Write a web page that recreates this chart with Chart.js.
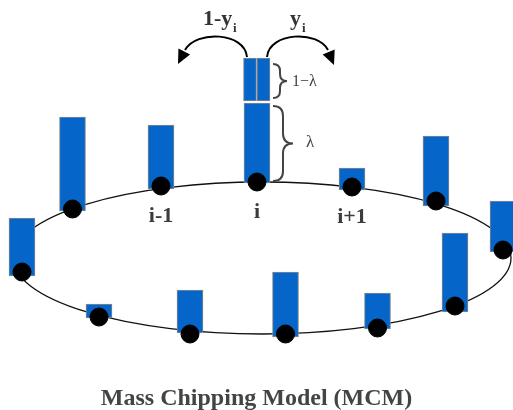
<!DOCTYPE html>
<html>
<head>
<meta charset="utf-8">
<script src="https://cdn.jsdelivr.net/npm/chart.js@4.4.1/dist/chart.umd.min.js"></script>
<style>
  html, body { margin: 0; padding: 0; background: #fff; }
  canvas { display: block; }
</style>
</head>
<body>
<canvas id="mcm" width="513" height="410"></canvas>
<script>
// sites on the ring (diagram units)
const siteX   = [22, 72.5, 161, 257, 352, 436, 503, 455, 377.5, 285.5, 190, 99];
const beadY   = [272, 209, 186, 182, 187, 201, 250, 306, 328, 334, 334, 317];
const barBase = [276, 211, 189, 183, 190, 206, 252, 312, 329, 337, 333, 318];
const barTop  = [218, 117, 125, 103, 168, 136, 201, 233, 293, 272, 290, 304];

// the chipped piece (1 - lambda) on top of site i, split in two
const chipX    = [250, 263.5];
const chipBase = [101, 101];
const chipTop  = [58, 58];

// site labels
const labelSite = [2, 3, 4];
const labelText = ['i-1', 'i', 'i+1'];

// ring (ellipse) through the beads
const ring = { cx: 262, cy: 258, rx: 249, ry: 76 };

const serif = "'Liberation Serif', 'DejaVu Serif', serif";

function brace(ctx, x, y1, y2, w) {
  const ym = (y1 + y2) / 2;
  const q = w / 2;
  ctx.beginPath();
  ctx.moveTo(x, y1);
  ctx.quadraticCurveTo(x + q, y1, x + q, y1 + q);
  ctx.lineTo(x + q, ym - q);
  ctx.quadraticCurveTo(x + q, ym, x + w, ym);
  ctx.quadraticCurveTo(x + q, ym, x + q, ym + q);
  ctx.lineTo(x + q, y2 - q);
  ctx.quadraticCurveTo(x + q, y2, x, y2);
  ctx.stroke();
}

function arrowHead(ctx, fx, fy, tx, ty, len, half) {
  const dx = tx - fx, dy = ty - fy;
  const d = Math.hypot(dx, dy);
  const ux = dx / d, uy = dy / d;
  const bx = tx - ux * len, by = ty - uy * len;
  ctx.beginPath();
  ctx.moveTo(tx, ty);
  ctx.lineTo(bx - uy * half, by + ux * half);
  ctx.lineTo(bx + uy * half, by - ux * half);
  ctx.closePath();
  ctx.fill();
}

const ringPlugin = {
  id: 'ring',
  beforeDatasetsDraw(chart) {
    const { ctx, scales: { x, y } } = chart;
    const cx = x.getPixelForValue(ring.cx), cy = y.getPixelForValue(ring.cy);
    const rx = x.getPixelForValue(ring.cx + ring.rx) - cx;
    const ry = y.getPixelForValue(ring.cy + ring.ry) - cy;
    ctx.save();
    ctx.strokeStyle = '#111';
    ctx.lineWidth = 1.3;
    ctx.beginPath();
    ctx.ellipse(cx, cy, Math.abs(rx), Math.abs(ry), 0, 0, Math.PI * 2);
    ctx.stroke();
    ctx.restore();
  }
};

const notesPlugin = {
  id: 'notes',
  afterDatasetsDraw(chart) {
    const { ctx, scales: { x, y } } = chart;
    const px = v => x.getPixelForValue(v);
    const py = v => y.getPixelForValue(v);
    ctx.save();

    // site labels
    ctx.fillStyle = '#3c3c3c';
    ctx.font = 'bold 22px ' + serif;
    ctx.textAlign = 'center';
    ctx.textBaseline = 'middle';
    labelSite.forEach((k, j) => {
      ctx.fillText(labelText[j], px(siteX[k]), py(beadY[k] + 30));
    });

    // braces and lambda labels
    ctx.strokeStyle = '#444';
    ctx.lineWidth = 2;
    brace(ctx, px(273), py(chipTop[0] + 6), py(chipBase[0] - 3), 14);
    brace(ctx, px(273), py(barTop[3] + 3), py(barBase[3] - 2), 20);
    ctx.fillStyle = '#444';
    ctx.textAlign = 'left';
    ctx.font = '16px ' + serif;
    ctx.fillText('1\u2212\u03bb', px(292), py(82));
    ctx.font = '17px ' + serif;
    ctx.fillText('\u03bb', px(306), py(143));

    // hopping arrows
    ctx.strokeStyle = '#000';
    ctx.fillStyle = '#000';
    ctx.lineWidth = 2;
    ctx.beginPath();
    ctx.moveTo(px(247), py(57));
    ctx.bezierCurveTo(px(245), py(32), px(196), py(30), px(185), py(50));
    ctx.stroke();
    arrowHead(ctx, px(186), py(48), px(178), py(64), 14, 6.5);
    ctx.beginPath();
    ctx.moveTo(px(267), py(57));
    ctx.bezierCurveTo(px(269), py(32), px(318), py(30), px(328), py(50));
    ctx.stroke();
    arrowHead(ctx, px(327), py(48), px(334), py(65), 14, 6.5);

    // probabilities
    ctx.fillStyle = '#333';
    ctx.textBaseline = 'alphabetic';
    ctx.font = 'bold 22px ' + serif;
    ctx.fillText('1-y', px(203), py(25));
    ctx.fillText('y', px(290), py(25));
    ctx.font = 'bold 13px ' + serif;
    ctx.fillText('i', px(233), py(32));
    ctx.fillText('i', px(302), py(32));

    ctx.restore();
  }
};

const barStyle = {
  backgroundColor: '#0565c8',
  borderColor: '#8a8a8a',
  borderWidth: 1,
  borderSkipped: false,
  grouped: false,
  clip: false
};

// the bead points make Chart.js keep a 10px margin on top/left/right,
// so the scales start at 10 to keep one unit = one pixel
new Chart(document.getElementById('mcm'), {
  type: 'scatter',
  data: {
    datasets: [
      {
        type: 'scatter',
        order: 0,
        clip: false,
        data: siteX.map((v, k) => ({ x: v, y: beadY[k] })),
        pointRadius: 9,
        pointHoverRadius: 9,
        pointBackgroundColor: '#000',
        pointBorderColor: '#000',
        pointBorderWidth: 1
      },
      Object.assign({
        type: 'bar',
        order: 1,
        barThickness: 26,
        data: siteX.map((v, k) => ({ x: v, y: [barBase[k], barTop[k]] }))
      }, barStyle),
      Object.assign({
        type: 'bar',
        order: 1,
        barThickness: 13,
        data: chipX.map((v, k) => ({ x: v, y: [chipBase[k], chipTop[k]] }))
      }, barStyle)
    ]
  },
  options: {
    responsive: false,
    animation: false,
    events: [],
    layout: { padding: 0 },
    scales: {
      x: { type: 'linear', min: 10, max: 503, offset: false, display: false },
      y: { type: 'linear', min: 10, max: 372, reverse: true, display: false }
    },
    plugins: {
      legend: { display: false },
      tooltip: { enabled: false },
      title: {
        display: true,
        position: 'bottom',
        text: 'Mass Chipping Model (MCM)',
        color: '#444',
        font: { family: serif, size: 24, weight: 'bold', lineHeight: 0.8 },
        padding: { top: 16.8, bottom: 2 }
      }
    }
  },
  plugins: [ringPlugin, notesPlugin]
});
</script>
</body>
</html>
